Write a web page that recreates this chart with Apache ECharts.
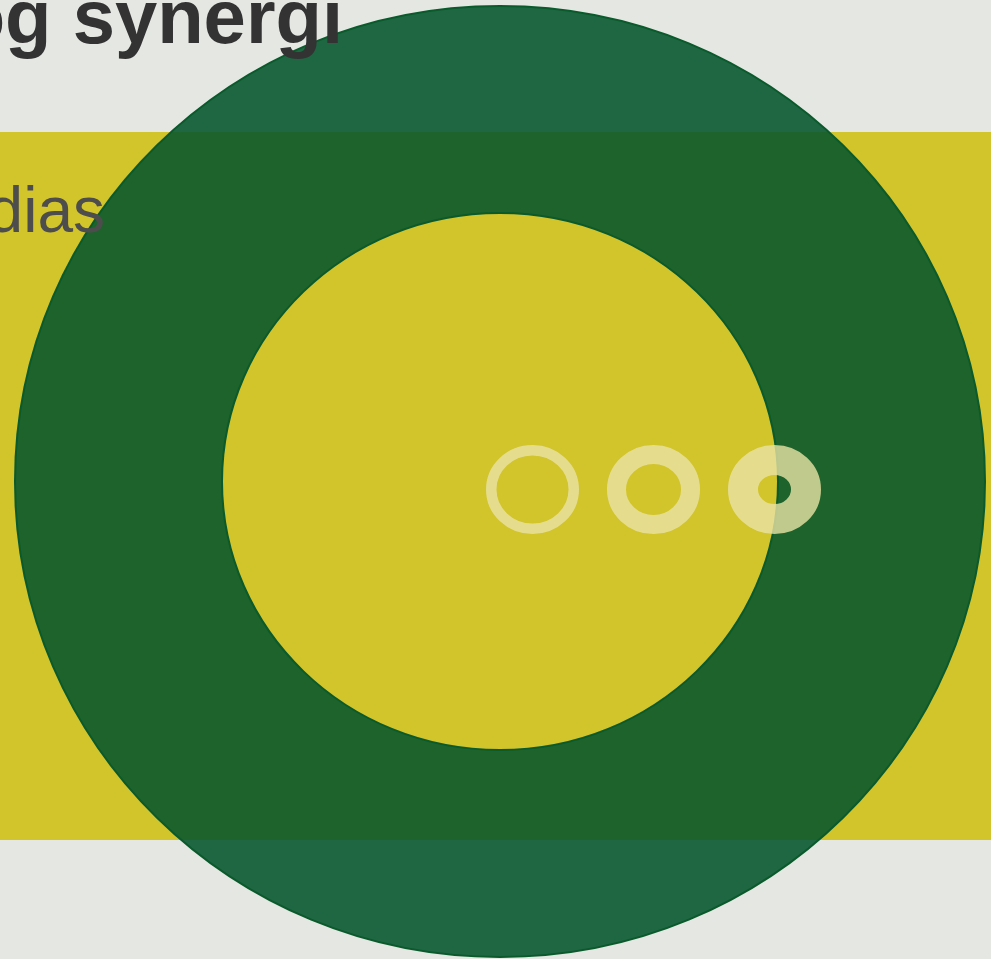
<!DOCTYPE html>
<html>
<head>
<meta charset="utf-8">
<script src="https://cdn.jsdelivr.net/npm/echarts@6/dist/echarts.min.js"></script>
<style>
	html, body { margin: 0; padding: 0; background: #e5e7e2; }
	#chart { width: 991px; height: 959px; }
</style>
</head>
<body>
<div id="chart"></div>
<script>
// axis units are canvas pixels, so values read straight off the picture
const bandY = [132, 840]
const ringCenter = [500, 481.5]
const ringOuter = [485, 475.5]
const ringInner = [278, 268.5]
const dotX = [532.5, 653.5, 774.5]
const dotY = [489.5, 489.5, 489.5]
const dotOuter = [46.5, 44.5]
const dotWidth = [10.5, 19, 30]

const yellow = '#d2c42b'

const chart = echarts.init(document.getElementById('chart'))

const dotData = dotX.map((x, i) => [x, dotY[i], dotWidth[i]])

const option = {
	backgroundColor: '#e5e7e2',
	animation: false,
	grid: { left: 0, right: 0, top: 0, bottom: 0 },
	xAxis: { type: 'value', min: 0, max: 991, show: false },
	yAxis: { type: 'value', min: 0, max: 959, inverse: true, show: false },
	graphic: [
		{
			type: 'text',
			z: 100,
			x: 343,
			y: 22,
			style: {
				text: 'og synergi',
				font: 'bold 76px "Liberation Sans", Arial, sans-serif',
				fill: '#333333',
				textAlign: 'right',
				textVerticalAlign: 'middle',
			},
		},
		{
			type: 'text',
			z: 100,
			x: 105,
			y: 214,
			style: {
				text: 'dias',
				font: '64px "Liberation Sans", Arial, sans-serif',
				fill: '#4d4d4d',
				textAlign: 'right',
				textVerticalAlign: 'middle',
			},
		},
	],
	series: [
		{
			// yellow band
			type: 'custom',
			z: 1,
			silent: true,
			data: [bandY],
			renderItem: (params, api) => {
				const p0 = api.coord([0, api.value(0)])
				const p1 = api.coord([991, api.value(1)])
				return {
					type: 'rect',
					shape: { x: p0[0], y: p0[1], width: p1[0] - p0[0], height: p1[1] - p0[1] },
					style: { fill: yellow },
				}
			},
		},
		{
			// big green ring
			type: 'custom',
			z: 2,
			silent: true,
			data: [[...ringCenter, ...ringOuter, ...ringInner]],
			renderItem: (params, api) => {
				const c = api.coord([api.value(0), api.value(1)])
				const o = api.size([api.value(2), api.value(3)])
				const n = api.size([api.value(4), api.value(5)])
				return {
					type: 'group',
					children: [
						{
							type: 'ellipse',
							shape: { cx: c[0], cy: c[1], rx: o[0], ry: o[1] },
							style: { fill: 'rgba(3,85,43,0.88)', stroke: '#0a5a2c', lineWidth: 2 },
						},
						{
							type: 'ellipse',
							shape: { cx: c[0], cy: c[1], rx: n[0], ry: n[1] },
							style: { fill: yellow, stroke: '#0a5a2c', lineWidth: 2 },
						},
					],
				}
			},
		},
		{
			// small rings, thickness = value
			type: 'custom',
			z: 3,
			silent: true,
			data: dotData,
			renderItem: (params, api) => {
				const c = api.coord([api.value(0), api.value(1)])
				const w = api.value(2)
				const r = api.size([dotOuter[0] - w / 2, dotOuter[1] - w / 2])
				return {
					type: 'ellipse',
					shape: { cx: c[0], cy: c[1], rx: r[0], ry: r[1] },
					style: { fill: 'none', stroke: 'rgba(234,228,166,0.8)', lineWidth: w },
				}
			},
		},
	],
}

chart.setOption(option)

window.addEventListener('resize', () => chart.resize())
</script>
</body>
</html>
